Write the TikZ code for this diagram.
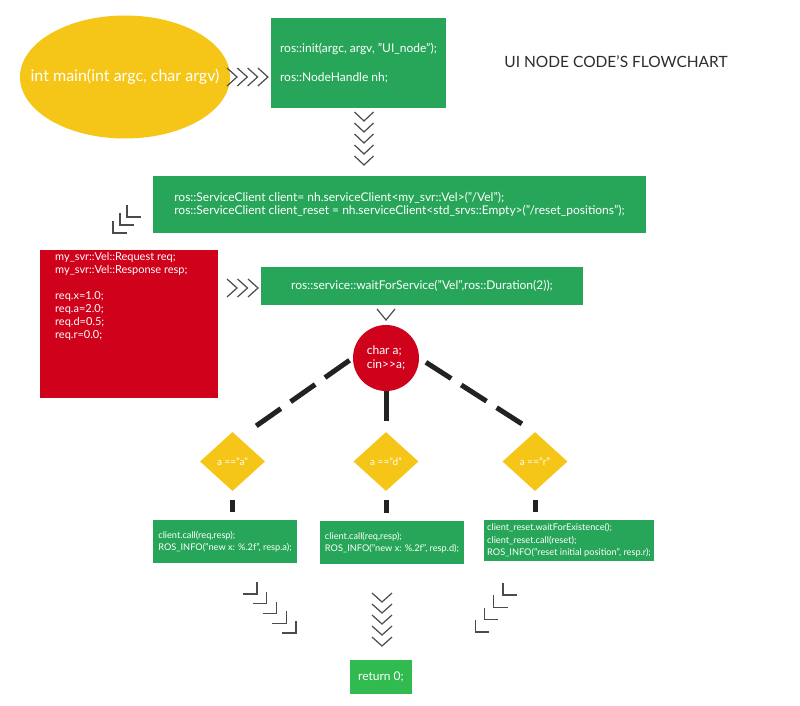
\documentclass[tikz,border=0pt]{standalone}
\usepackage{fontspec}
\setmainfont{Lato}
\usetikzlibrary{shapes.geometric,calc}
\definecolor{myyellow}{RGB}{245,198,24}
\definecolor{mygreen}{RGB}{39,166,89}
\definecolor{myred}{RGB}{208,2,27}
\definecolor{retgreen}{RGB}{49,186,80}
\definecolor{chevc}{RGB}{75,75,75}
\definecolor{dashc}{RGB}{34,34,34}
\definecolor{titlec}{RGB}{45,45,45}
\begin{document}
\begin{tikzpicture}[x=1pt,y=-1pt,
  gbox/.style={fill=mygreen, text=white, inner sep=0pt, align=left},
  dia/.style={diamond, fill=myyellow, text=white, inner sep=0pt, minimum width=65pt, minimum height=59pt, font=\fontsize{10}{12}\selectfont},
  chevron/.style={draw=chevc, line width=1.2pt, line cap=butt, line join=miter},
  dashline/.style={draw=dashc, line width=5pt, dash pattern=on 30pt off 12pt},
  bar/.style={draw=dashc, line width=5pt},
  codefont/.style={font=\fontsize{12}{13.5}\selectfont},
  redfont/.style={font=\fontsize{11}{13}\selectfont},
  smallcode/.style={font=\fontsize{9.2}{12.5}\selectfont}
]
\useasboundingbox (0,0) rectangle (800,706);
\fill[white] (0,0) rectangle (800,706);

% start ellipse
\node[ellipse, fill=myyellow, text=white, minimum width=210pt, minimum height=123pt, inner xsep=-21pt, inner ysep=0pt,
  font=\fontsize{16}{18}\selectfont] (start) at (125,77) {int main(int argc, char argv)};

% init box
\node[gbox, codefont, minimum width=175pt, minimum height=90pt] (init) at (358.5,63)
  {ros::init(argc, argv, "UI\_node");\\[16pt]ros::NodeHandle nh;};

% title
\node[text=titlec, font=\fontsize{15.5}{18}\selectfont] (title) at (616,62) {UI NODE CODE'S FLOWCHART};

% service client box
\node[gbox, codefont, minimum width=493pt, minimum height=57pt] (clients) at (399.5,204.5)
  {ros::ServiceClient client= nh.serviceClient<my\_svr::Vel>("/Vel");\\
   ros::ServiceClient client\_reset = nh.serviceClient<std\_srvs::Empty>("/reset\_positions");};

% request box (red)
\node[fill=myred, minimum width=178pt, minimum height=148pt, inner sep=0pt] (req) at (129,324) {};
\node[text=white, redfont, align=left, anchor=north west, inner sep=0pt] (reqtext) at (55,252)
  {my\_svr::Vel::Request req;\\
   my\_svr::Vel::Response resp;\\[13pt]
   req.x=1.0;\\
   req.a=2.0;\\
   req.d=0.5;\\
   req.r=0.0;};

% wait box
\node[gbox, codefont, minimum width=322pt, minimum height=38pt] (wait) at (422,286)
  {ros::service::waitForService("Vel",ros::Duration(2));};

% input circle
\node[circle, fill=myred, text=white, minimum size=66pt, inner sep=0pt, align=left, codefont] (input) at (386,358)
  {char a;\\cin>{}>a;};

% diamonds
\node[dia] (da) at (232.5,461.5) {a =="a"};
\node[dia] (dd) at (386,461.5) {a =="d"};
\node[dia] (dr) at (535,461.5) {a =="r"};

% action boxes
\node[gbox, smallcode, minimum width=144pt, minimum height=43pt] (acta) at (225,541.5)
  {client.call(req,resp);\\ROS\_INFO("new x: \%.2f", resp.a);};
\node[gbox, smallcode, minimum width=144pt, minimum height=43pt] (actd) at (392,542.5)
  {client.call(req,resp);\\ROS\_INFO("new x: \%.2f", resp.d);};
\node[gbox, smallcode, minimum width=170pt, minimum height=41pt] (actr) at (569,540.5)
  {client\_reset.waitForExistence();\\client\_reset.call(reset);\\ROS\_INFO("reset initial position", resp.r);};

% return box
\node[fill=retgreen, text=white, minimum width=62pt, minimum height=34pt, inner sep=0pt, codefont] (ret) at (381,677) {return 0;};

% dashed connectors
\draw[dashline, shorten <=4pt] (input.west) -- ([shift={(21,-4)}]da.north);
\draw[dashline] (input.south) -- (dd.north);
\draw[dashline, shorten <=8pt] (input.east) -- ([shift={(-7,-4)}]dr.north);
\draw[bar, shorten <=9pt, shorten >=8pt] (da.south) -- (da.south |- acta.north);
\draw[bar, shorten <=9pt, shorten >=8pt] (dd.south) -- (dd.south |- actd.north);
\draw[bar, shorten <=9pt, shorten >=8pt] (dr.south) -- (dr.south |- actr.north);

% chevrons start -> init
\foreach \i in {0,...,3}
  \draw[chevron] ({232+10.3*\i-5},68) -- ++(10,9) -- ++(-10,9);
% chevrons init -> clients
\foreach \i in {0,...,4}
  \draw[chevron] ({364-9.5},{112+11*\i}) -- ++(9.5,9) -- ++(9.5,-9);
% corners clients -> req
\foreach \cx/\cy in {127/217,120/225,113/233}
  \draw[chevron] (\cx,\cy-12) -- (\cx,\cy) -- (\cx+14,\cy);
% chevrons req -> wait
\foreach \i in {0,...,2}
  \draw[chevron] ({232+10.5*\i-5},279) -- ++(10,9) -- ++(-10,9);
% chevron wait -> input
\draw[chevron] (377,309) -- ++(9,11) -- ++(9,-11);
% corners acta -> ret
\foreach \i in {0,...,4}
  \draw[chevron] ({257+9.75*\i-14},{594+9.75*\i}) -- ++(14,0) -- ++(0,-12);
% chevrons actd -> ret
\foreach \i in {0,...,4}
  \draw[chevron] ({382-10},{593+11*\i}) -- ++(10,9) -- ++(10,-9);
% corners actr -> ret
\foreach \i in {0,...,3}
  \draw[chevron] ({503-9.3*\i},{595+12.3*\i-12}) -- ++(0,12) -- ++(14,0);
\end{tikzpicture}
\end{document}
